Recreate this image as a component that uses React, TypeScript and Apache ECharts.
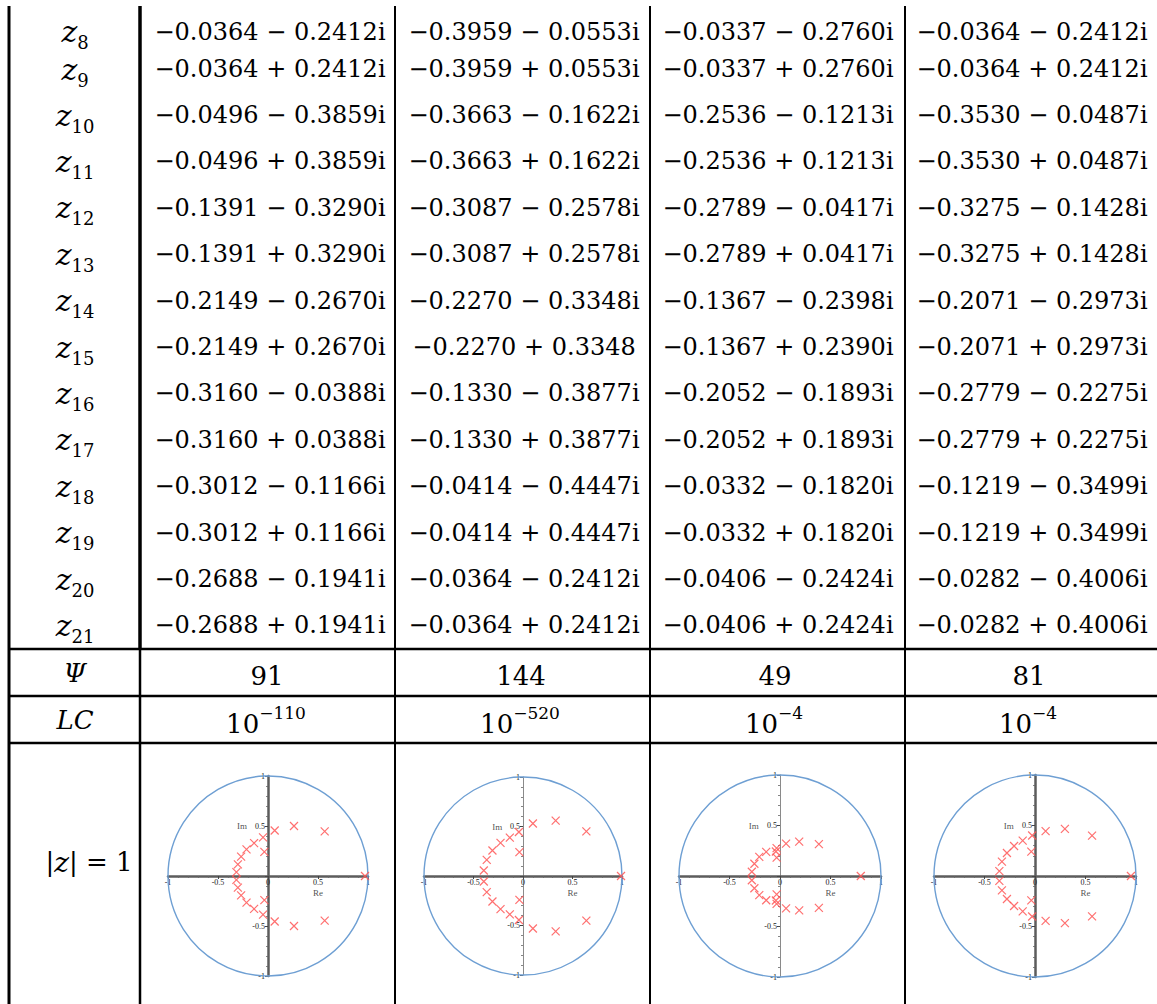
import React, { useEffect, useRef } from "react";
import * as echarts from "echarts";

// ---------- DATA ----------
const rowIndices = ["8", "9", "10", "11", "12", "13", "14", "15", "16", "17", "18", "19", "20", "21"];

const col1Cells = [
  "−0.0364 − 0.2412i", "−0.0364 + 0.2412i", "−0.0496 − 0.3859i", "−0.0496 + 0.3859i",
  "−0.1391 − 0.3290i", "−0.1391 + 0.3290i", "−0.2149 − 0.2670i", "−0.2149 + 0.2670i",
  "−0.3160 − 0.0388i", "−0.3160 + 0.0388i", "−0.3012 − 0.1166i", "−0.3012 + 0.1166i",
  "−0.2688 − 0.1941i", "−0.2688 + 0.1941i",
];
const col2Cells = [
  "−0.3959 − 0.0553i", "−0.3959 + 0.0553i", "−0.3663 − 0.1622i", "−0.3663 + 0.1622i",
  "−0.3087 − 0.2578i", "−0.3087 + 0.2578i", "−0.2270 − 0.3348i", "−0.2270 + 0.3348",
  "−0.1330 − 0.3877i", "−0.1330 + 0.3877i", "−0.0414 − 0.4447i", "−0.0414 + 0.4447i",
  "−0.0364 − 0.2412i", "−0.0364 + 0.2412i",
];
const col3Cells = [
  "−0.0337 − 0.2760i", "−0.0337 + 0.2760i", "−0.2536 − 0.1213i", "−0.2536 + 0.1213i",
  "−0.2789 − 0.0417i", "−0.2789 + 0.0417i", "−0.1367 − 0.2398i", "−0.1367 + 0.2390i",
  "−0.2052 − 0.1893i", "−0.2052 + 0.1893i", "−0.0332 − 0.1820i", "−0.0332 + 0.1820i",
  "−0.0406 − 0.2424i", "−0.0406 + 0.2424i",
];
const col4Cells = [
  "−0.0364 − 0.2412i", "−0.0364 + 0.2412i", "−0.3530 − 0.0487i", "−0.3530 + 0.0487i",
  "−0.3275 − 0.1428i", "−0.3275 + 0.1428i", "−0.2071 − 0.2973i", "−0.2071 + 0.2973i",
  "−0.2779 − 0.2275i", "−0.2779 + 0.2275i", "−0.1219 − 0.3499i", "−0.1219 + 0.3499i",
  "−0.0282 − 0.4006i", "−0.0282 + 0.4006i",
];

const psiValues = ["91", "144", "49", "81"];
const lcExponents = ["−110", "−520", "−4", "−4"];

// zeros z1..z7 (not listed in the visible part of the table)
const outerZeros1 = [[0.97, 0], [0.067, 0.455], [0.067, -0.455], [0.26, 0.5], [0.26, -0.5], [0.567, 0.447], [0.567, -0.447]];
const outerZeros2 = [[0.99, 0], [0.1, 0.53], [0.1, -0.53], [0.33, 0.56], [0.33, -0.56], [0.64, 0.45], [0.64, -0.45]];
const outerZeros3 = [[0.8, 0], [0.06, 0.32], [0.06, -0.32], [0.19, 0.34], [0.19, -0.34], [0.385, 0.316], [0.385, -0.316]];
const outerZeros4 = [[0.95, 0], [0.105, 0.445], [0.105, -0.445], [0.296, 0.467], [0.296, -0.467], [0.565, 0.4], [0.565, -0.4]];

const axisMin = -1;
const axisMax = 1;
const axisInterval = 0.5;
const unitCircle = { center: [0, 0], radius: 1 };
const reLabelPos = [0.5, -0.17];
const imLabelPos = [-0.26, 0.5];

// ---------- LAYOUT ----------
const W = 1157;
const H = 1004;
const valueX = [270, 524, 778, 1032];
const labelX = 75;
const rowY = rowIndices.map((_, i) => (i === 0 ? 31.5 : i === 1 ? 69 : 115 + (i - 2) * 46.4));
const plotCX = [268, 523, 780, 1035];
const plotR = [100, 99, 101, 101];
const plotCY = 876;
const vAxisStrong = [true, false, false, true];

const SERIF = "DejaVu Serif";

function parseZero(s: string): number[] {
  const t = s.replace(/−/g, "-").replace(/\s+/g, "");
  const m = t.match(/^([+-]?[\d.]+)([+-])([\d.]+)i?$/);
  if (!m) return [NaN, NaN];
  return [parseFloat(m[1]), (m[2] === "-" ? -1 : 1) * parseFloat(m[3])];
}

function txt(x: number, y: number, text: string, extra: any = {}) {
  return {
    type: "text",
    x,
    y,
    silent: true,
    style: {
      text,
      fill: "#000",
      fontFamily: SERIF,
      fontSize: 24,
      align: "center",
      verticalAlign: "middle",
      textAlign: "center",
      textVerticalAlign: "middle",
      ...extra,
    },
  };
}

function vline(x: number, y1: number, y2: number, w: number) {
  return { type: "line", silent: true, shape: { x1: x, y1, x2: x, y2 }, style: { stroke: "#000", lineWidth: w } };
}
function hline(y: number, x1: number, x2: number, w: number) {
  return { type: "line", silent: true, shape: { x1, y1: y, x2, y2: y }, style: { stroke: "#000", lineWidth: w } };
}

export default function App() {
  const ref = useRef<HTMLDivElement>(null);

  useEffect(() => {
    if (!ref.current) return;
    const chart = echarts.init(ref.current, null, { renderer: "svg" });

    const columns = [col1Cells, col2Cells, col3Cells, col4Cells];
    const outers = [outerZeros1, outerZeros2, outerZeros3, outerZeros4];

    const graphics: any[] = [];
    // table lines
    graphics.push(vline(9, 6, H, 3));
    graphics.push(vline(140, 6, 649, 3.5));
    graphics.push(vline(140, 649, H, 2.5));
    [395, 650, 905].forEach((x) => graphics.push(vline(x, 6, H, 2)));
    [649, 696, 743].forEach((y) => graphics.push(hline(y, 9, W, 2.5)));

    // row labels
    rowIndices.forEach((n, i) => {
      graphics.push(
        txt(labelX, rowY[i], `{z|z}{s|${n}}`, {
          rich: {
            z: { fontFamily: SERIF, fontStyle: "italic", fontSize: 30, lineHeight: 30, verticalAlign: "top", fill: "#000" },
            s: { fontFamily: SERIF, fontSize: 18, lineHeight: 18, padding: [17, 0, 0, 0], verticalAlign: "top", fill: "#000" },
          },
        })
      );
    });
    // cell values
    columns.forEach((cells, c) => {
      cells.forEach((cell, i) => graphics.push(txt(valueX[c], rowY[i], cell)));
    });
    // Psi row
    graphics.push(txt(labelX, 673, "Ψ", { fontStyle: "italic", fontSize: 26 }));
    psiValues.forEach((v, c) => graphics.push(txt(valueX[c] - 3, 676, v, { fontSize: 26 })));
    // LC row
    graphics.push(txt(labelX, 720, "LC", { fontStyle: "italic", fontSize: 26 }));
    lcExponents.forEach((e, c) =>
      graphics.push(
        txt(valueX[c] - 4, 717, `{b|10}{p|${e}}`, {
          rich: {
            b: { fontFamily: SERIF, fontSize: 26, lineHeight: 26, padding: [7, 0, 0, 0], verticalAlign: "top", fill: "#000" },
            p: { fontFamily: SERIF, fontSize: 17, lineHeight: 17, verticalAlign: "top", fill: "#000" },
          },
        })
      )
    );
    // |z| = 1
    graphics.push(
      txt(89, 862, "{u||}{i|z}{u|| = 1}", {
        rich: {
          u: { fontFamily: SERIF, fontSize: 26, lineHeight: 30, fill: "#000" },
          i: { fontFamily: SERIF, fontStyle: "italic", fontSize: 28, lineHeight: 30, fill: "#000" },
        },
      })
    );

    const grids: any[] = [];
    const xAxes: any[] = [];
    const yAxes: any[] = [];
    const series: any[] = [];

    for (let k = 0; k < 4; k++) {
      const r = plotR[k];
      grids.push({ left: plotCX[k] - r, top: plotCY - r, width: 2 * r, height: 2 * r, containLabel: false });
      const common = {
        gridIndex: k,
        type: "value",
        min: axisMin,
        max: axisMax,
        interval: axisInterval,
        splitLine: { show: false },
        axisTick: { show: true, length: 3, inside: false, lineStyle: { color: "#444", width: 1 } },
        minorTick: { show: true, splitNumber: 5, length: 2, lineStyle: { color: "#666", width: 0.8 } },
      };
      xAxes.push({
        ...common,
        position: "bottom",
        offset: -r,
        axisLine: { show: true, onZero: false, lineStyle: { color: "#5c5c5c", width: 2.5 } },
        axisLabel: {
          fontSize: 8,
          fontFamily: "Liberation Serif",
          color: "#222",
          margin: 2,
          formatter: (v: number) => (v === 0 ? "0" : String(v)),
        },
      });
      yAxes.push({
        ...common,
        position: "left",
        offset: -r,
        axisLine: {
          show: true,
          onZero: false,
          lineStyle: vAxisStrong[k] ? { color: "#5c5c5c", width: 2.5 } : { color: "#8a8a8a", width: 1 },
        },
        axisLabel: {
          fontSize: 8,
          fontFamily: "Liberation Serif",
          color: "#222",
          margin: 3,
          formatter: (v: number) => (v === 0 ? "" : String(v)),
        },
      });

      series.push({
        type: "custom",
        xAxisIndex: k,
        yAxisIndex: k,
        silent: true,
        clip: false,
        data: [[unitCircle.center[0], unitCircle.center[1], unitCircle.radius]],
        renderItem: (params: any, api: any) => {
          const c = api.coord([api.value(0), api.value(1)]);
          const s = api.size([api.value(2), api.value(2)]);
          return {
            type: "circle",
            shape: { cx: c[0], cy: c[1], r: s[0] },
            style: { fill: "none", stroke: "#6e9fd3", lineWidth: 1.4 },
          };
        },
        z: 1,
      });

      const zeros = [...outers[k], ...columns[k].map(parseZero)];
      series.push({
        type: "scatter",
        xAxisIndex: k,
        yAxisIndex: k,
        silent: true,
        symbol: "path://M0,0L10,10M10,0L0,10",
        symbolSize: 8,
        itemStyle: { color: "rgba(0,0,0,0)", borderColor: "#ff5656", borderWidth: 1.2, opacity: 0.85 },
        data: zeros,
        z: 3,
      });

      series.push({
        type: "scatter",
        xAxisIndex: k,
        yAxisIndex: k,
        silent: true,
        symbolSize: 1,
        itemStyle: { color: "rgba(0,0,0,0)" },
        label: {
          show: true,
          position: "inside",
          formatter: "{b}",
          fontSize: 9,
          fontFamily: "Liberation Serif",
          color: "#222",
        },
        data: [
          { name: "Re", value: reLabelPos },
          { name: "Im", value: imLabelPos },
        ],
        z: 4,
      });
    }

    chart.setOption({
      animation: false,
      backgroundColor: "#fff",
      grid: grids,
      xAxis: xAxes,
      yAxis: yAxes,
      series,
      graphic: { elements: graphics },
    });

    return () => chart.dispose();
  }, []);

  return <div ref={ref} style={{ position: "absolute", left: 0, top: 0, width: W, height: H }} />;
}
